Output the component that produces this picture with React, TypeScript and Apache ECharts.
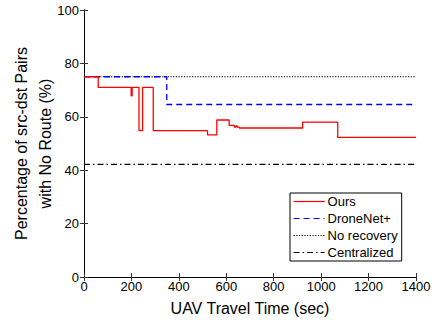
import React, { useEffect, useRef } from "react";
import * as echarts from "echarts";

const oursTimes = [0, 60, 199, 203, 232, 247, 292, 521, 560, 612, 634, 640, 646, 655, 922, 1070, 1400];
const oursValues = [75, 71, 67.8, 71, 54.8, 71, 54.8, 53.2, 58.8, 56.8, 56.1, 56.6, 56.1, 55.8, 58, 52.3, 52.3];
const droneTimes = [0, 349, 1400];
const droneValues = [75, 64.6, 64.6];
const noRecoveryTimes = [0, 1400];
const noRecoveryValues = [75, 75];
const centralTimes = [0, 1400];
const centralValues = [42.2, 42.2];
const seriesNames = ["Ours", "DroneNet+", "No recovery", "Centralized"];

const FONT = "'Liberation Sans', Arial, Helvetica, sans-serif";

function pairs(xs: number[], ys: number[]) {
  return xs.map((x, i) => [x, ys[i]]);
}

export default function App() {
  const ref = useRef<HTMLDivElement>(null);
  useEffect(() => {
    if (!ref.current) return;
    const chart = echarts.init(ref.current, null, { renderer: "svg" });
    const axisLine = { show: true, lineStyle: { color: "#000", width: 1 } };
    const tick = { show: true, inside: true, length: 4, lineStyle: { color: "#333" } };
    chart.setOption({
      animation: false,
      textStyle: { fontFamily: FONT },
      grid: { left: 84, right: 19, top: 10, bottom: 45, show: false, containLabel: false, outerBoundsMode: "none" },
      legend: {
        orient: "vertical",
        left: 290,
        top: 193,
        itemWidth: 31,
        itemHeight: 14,
        itemGap: 4,
        padding: [2, 4, 2, 3],
        borderColor: "#000",
        borderWidth: 1,
        backgroundColor: "#fff",
        itemStyle: { opacity: 0 },
        lineStyle: { width: 1.2 },
        textStyle: { fontFamily: FONT, fontSize: 13, color: "#000", padding: [0, 0, 0, -2] },
        data: seriesNames,
      },
      xAxis: [
        {
          type: "value",
          min: 0,
          max: 1400,
          interval: 200,
          position: "bottom",
          axisLine,
          axisTick: tick,
          splitLine: { show: false },
          axisLabel: {
            color: "#000",
            fontSize: 13,
            margin: 3,
            formatter: (v: number) => String(v),
          },
          name: "UAV Travel Time (sec)",
          nameLocation: "middle",
          nameGap: 23,
          nameMoveOverlap: false,
          nameTextStyle: { color: "#000", fontSize: 16, fontFamily: FONT },
        },
        {
          type: "value",
          min: 0,
          max: 1400,
          interval: 200,
          position: "top",
          axisLine,
          axisTick: tick,
          splitLine: { show: false },
          axisLabel: { show: false },
        },
      ],
      yAxis: [
        {
          type: "value",
          min: 0,
          max: 100,
          interval: 20,
          position: "left",
          axisLine,
          axisTick: tick,
          splitLine: { show: false },
          axisLabel: { color: "#000", fontSize: 13, margin: 5, formatter: (v: number) => String(v) },
          name: "Percentage of src-dst Pairs\nwith No Route (%)",
          nameLocation: "middle",
          nameGap: 27,
          nameMoveOverlap: false,
          nameTextStyle: { color: "#000", fontSize: 16, lineHeight: 24, fontFamily: FONT },
        },
        {
          type: "value",
          min: 0,
          max: 100,
          interval: 20,
          position: "right",
          axisLine,
          axisTick: tick,
          splitLine: { show: false },
          axisLabel: { show: false },
        },
      ],
      series: [
        {
          name: seriesNames[0],
          type: "line",
          step: "end",
          showSymbol: false,
          symbol: "none",
          data: pairs(oursTimes, oursValues),
          lineStyle: { color: "#ff0000", width: 1.3 },
          itemStyle: { color: "#ff0000" },
          z: 5,
        },
        {
          name: seriesNames[1],
          type: "line",
          step: "end",
          showSymbol: false,
          symbol: "none",
          data: pairs(droneTimes, droneValues),
          lineStyle: { color: "#0000ff", width: 1.3, type: [6, 4] },
          itemStyle: { color: "#0000ff" },
          z: 4,
        },
        {
          name: seriesNames[2],
          type: "line",
          showSymbol: false,
          symbol: "none",
          data: pairs(noRecoveryTimes, noRecoveryValues),
          lineStyle: { color: "#000", width: 1.2, type: [1.2, 1.5] },
          itemStyle: { color: "#000" },
          z: 3,
        },
        {
          name: seriesNames[3],
          type: "line",
          showSymbol: false,
          symbol: "none",
          data: pairs(centralTimes, centralValues),
          lineStyle: { color: "#000", width: 1.2, type: [6, 3, 1.5, 3] },
          itemStyle: { color: "#000" },
          z: 3,
        },
      ],
    });
    return () => chart.dispose();
  }, []);
  return <div ref={ref} style={{ width: 435, height: 322, position: "absolute", left: 0, top: 0, background: "#fff" }} />;
}
